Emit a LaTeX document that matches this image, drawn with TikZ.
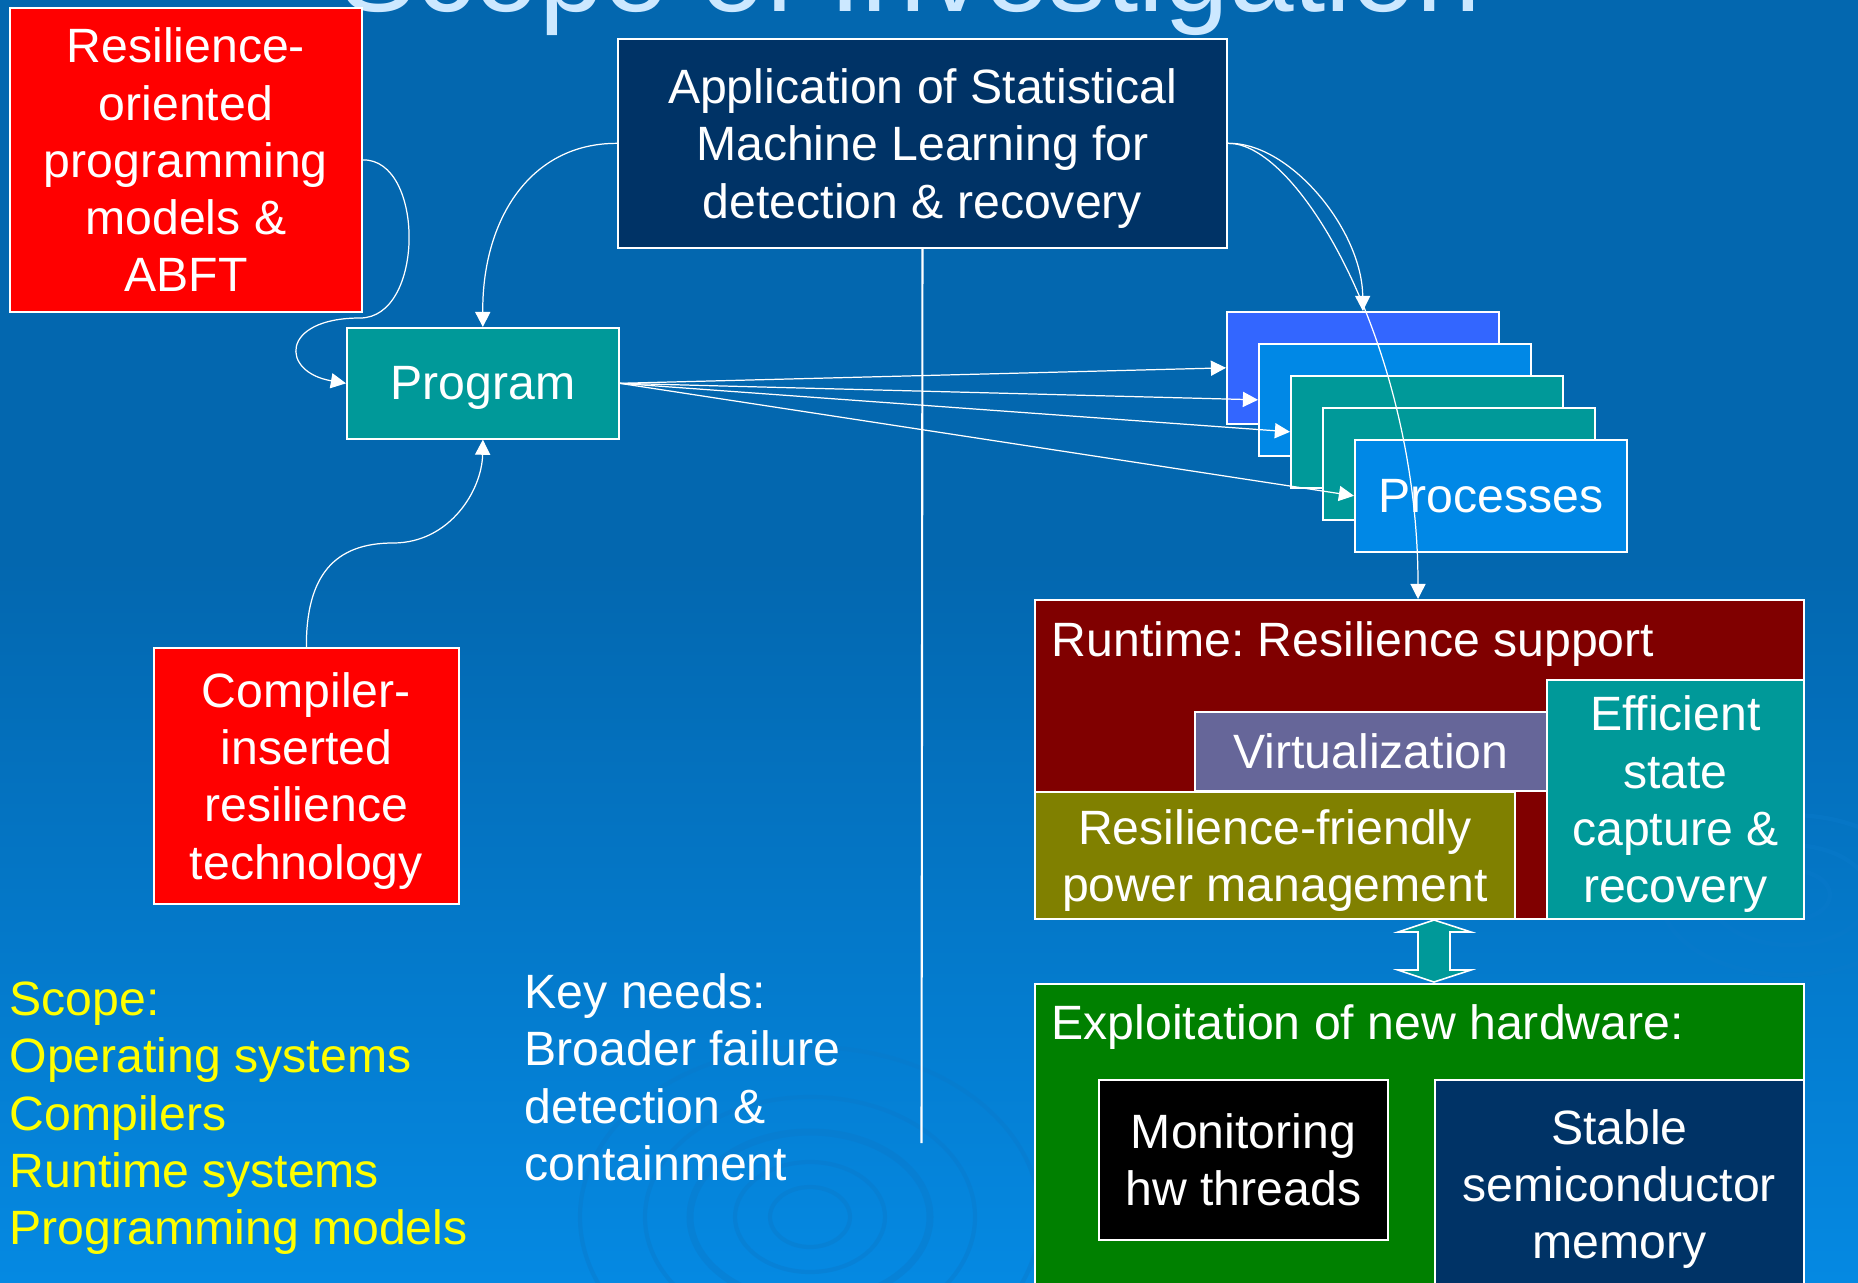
\documentclass[tikz,border=0pt]{standalone}
\usepackage{fontspec}
\setmainfont{Liberation Sans}
\usetikzlibrary{arrows.meta,calc}
\definecolor{bgtop}{HTML}{0367AF}
\definecolor{bgbot}{HTML}{0589E2}
\definecolor{redbox}{HTML}{FF0000}
\definecolor{navybox}{HTML}{003366}
\definecolor{tealbox}{HTML}{009999}
\definecolor{bluebox}{HTML}{3366FF}
\definecolor{skybox}{HTML}{0088E6}
\definecolor{maroonbox}{HTML}{800000}
\definecolor{violetbox}{HTML}{666699}
\definecolor{olivebox}{HTML}{808000}
\definecolor{greenbox}{HTML}{008000}
\definecolor{titleblue}{HTML}{CCE8FF}
\definecolor{ripple}{HTML}{0A7ACB}
\definecolor{yellowtext}{HTML}{FFFF00}
\frenchspacing
\newcommand{\bodyfont}{\fontsize{13.7pt}{16.3pt}\selectfont\frenchspacing}
\begin{document}
\begin{tikzpicture}[x=0.01cm,y=-0.01cm,
  box/.style={draw=white,line width=0.45pt,anchor=north west,inner sep=0pt,text=white,align=center,font=\bodyfont,text depth=0pt},
  link/.style={draw=white,line width=0.35pt,-{Triangle[length=4.3pt,width=4.3pt]}},
  plain/.style={anchor=north west,inner sep=0pt,align=left,font=\bodyfont},
  ripplestyle/.style={draw=ripple,line width=1.2pt,opacity=0.45}]
\useasboundingbox (0,0) rectangle (1858,1282);
\clip (0,0) rectangle (1858,1282);
% background
\fill[bgtop] (0,0) rectangle (1858,560);
\shade[top color=bgtop,bottom color=bgbot] (0,559) rectangle (1858,1282);
% ripples
\draw[ripplestyle] (810,1217) ellipse (40 and 30);
\draw[ripplestyle] (810,1217) ellipse (75 and 55);
\draw[ripplestyle,line width=2pt] (810,1217) ellipse (120 and 85);
\draw[ripplestyle] (810,1217) ellipse (165 and 120);
\draw[ripplestyle] (810,1217) ellipse (230 and 170);
\draw[ripplestyle] (1790,895) ellipse (40 and 25);
\draw[ripplestyle] (1790,895) ellipse (80 and 50);
\draw[ripplestyle] (1790,895) ellipse (130 and 80);
% title
\node[anchor=base,text=titleblue,font=\fontsize{33pt}{40pt}\selectfont,inner sep=0pt] (title) at (910,12) {Scope of Investigation};
% boxes
\node[box,fill=redbox,minimum width=3.52cm,minimum height=3.04cm] (res) at (9,7) {Resilience-\\oriented\\programming\\models \&\\ABFT};
\node[box,fill=navybox,minimum width=6.09cm,minimum height=2.09cm] (ml) at (617,38) {Application of Statistical\\Machine Learning for\\detection \& recovery};
\node[box,fill=tealbox,minimum width=2.72cm,minimum height=1.11cm] (prog) at (346,327) {Program};
\node[box,fill=redbox,minimum width=3.05cm,minimum height=2.56cm] (comp) at (153,647) {Compiler-\\inserted\\resilience\\technology};
\node[box,fill=bluebox,minimum width=2.72cm,minimum height=1.12cm] (p1) at (1226,311) {};
\node[box,fill=skybox,minimum width=2.72cm,minimum height=1.12cm] (p2) at (1258,343) {};
\node[box,fill=tealbox,minimum width=2.72cm,minimum height=1.12cm] (p3) at (1290,375) {};
\node[box,fill=tealbox,minimum width=2.72cm,minimum height=1.12cm] (p4) at (1322,407) {};
\node[box,fill=skybox,minimum width=2.72cm,minimum height=1.12cm] (p5) at (1354,439) {Processes};
\node[box,fill=maroonbox,minimum width=7.69cm,minimum height=3.19cm] (rt) at (1034,599) {};
\node[plain,text=white] (rtlabel) at (1051,621) {Runtime: Resilience support};
\node[box,fill=violetbox,minimum width=3.52cm,minimum height=0.79cm] (virt) at (1194,711) {Virtualization};
\node[box,fill=olivebox,minimum width=4.80cm,minimum height=1.27cm] (pow) at (1034,791) {Resilience-friendly\\power management};
\node[box,fill=tealbox,minimum width=2.57cm,minimum height=2.39cm] (eff) at (1546,679) {Efficient\\state\\capture \&\\recovery};
\node[box,fill=greenbox,minimum width=7.69cm,minimum height=3.10cm] (hw) at (1034,983) {};
\node[plain,text=white] (hwlabel) at (1051,1004) {Exploitation of new hardware:};
\node[box,fill=black,minimum width=2.89cm,minimum height=1.60cm] (mon) at (1098,1079) {Monitoring\\hw threads};
\node[box,fill=navybox,minimum width=3.69cm,minimum height=2.08cm] (stab) at (1434,1079) {Stable\\semiconductor\\memory};
% double arrow between runtime and hardware
\filldraw[fill=tealbox,draw=white,line width=0.45pt] (1434,920) -- (1471,932) -- (1450,932) -- (1450,970) -- (1471,970) -- (1434,982) -- (1398,970) -- (1418,970) -- (1418,932) -- (1398,932) -- cycle;
% side texts
\node[plain,text=yellowtext] (scope) at (9,981) {Scope:\\Operating systems\\Compilers\\Runtime systems\\Programming models};
\node[plain,text=white] (needs) at (524,973) {Key needs:\\Broader failure\\detection \&\\containment};
% connectors
\coordinate (vend) at (921.5,1143);
\draw[white,line width=0.6pt] (ml.south) -- (vend);
\draw[link] (res.east) .. controls (425,159) and (425,318) .. (360,318) .. controls (280,318) and (280,372) .. (prog.west);
\draw[link] (ml.west) .. controls (530,143) and (482,220) .. (prog.north);
\draw[link] (comp.north) .. controls (306,575) and (335,543) .. (393,543) .. controls (450,543) and (482,490) .. (prog.south);
\draw[link] (prog.east) -- (p1.west);
\draw[link] (prog.east) -- (p2.west);
\draw[link] (prog.east) -- (p3.west);
\draw[link] (prog.east) -- (p5.west);
\draw[link] (ml.east) .. controls (1290,142) and (1362,230) .. (p1.north);
\draw[link] (ml.east) .. controls (1300,142) and (1418,350) .. ($(rt.north west)+(384,0)$);
\end{tikzpicture}
\end{document}
